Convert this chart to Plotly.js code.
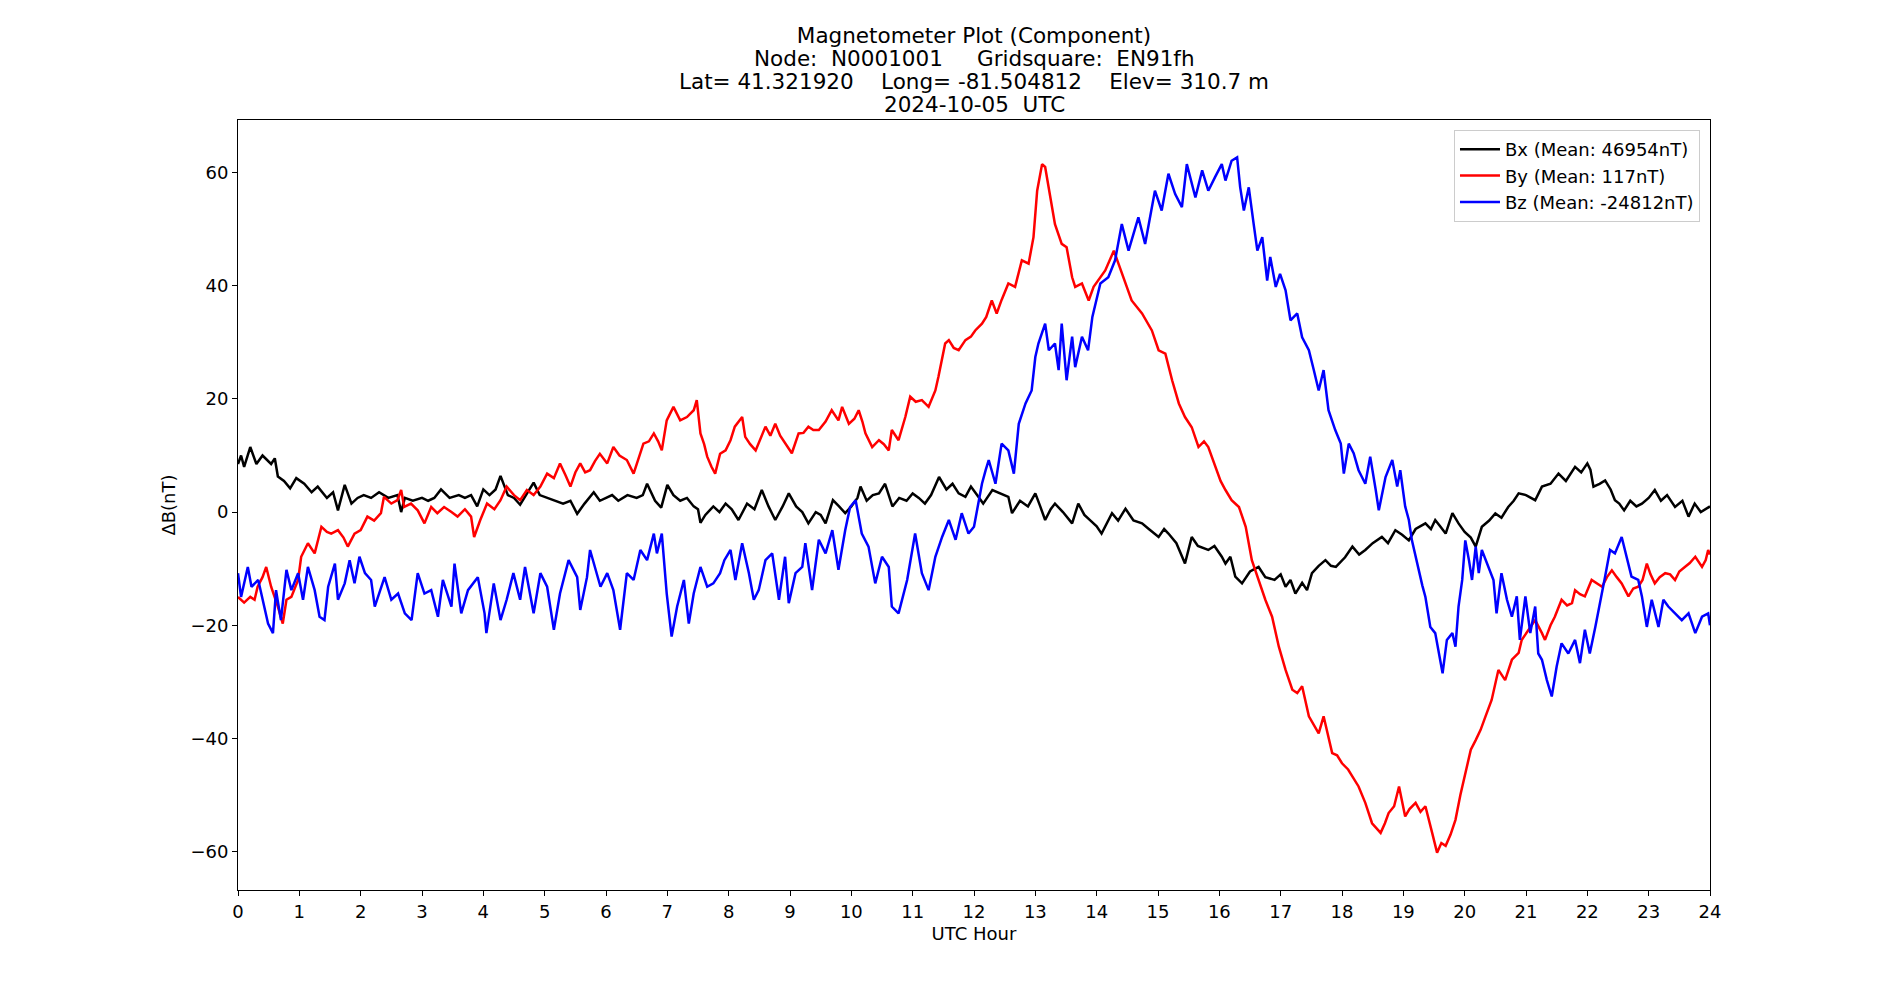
<!DOCTYPE html>
<html>
<head>
<meta charset="utf-8">
<script src="https://cdn.plot.ly/plotly-3.0.1.min.js"></script>
<style>
html,body{margin:0;padding:0;background:#fff;}
#chart{width:1900px;height:1000px;}
</style>
</head>
<body>
<div id="chart"></div>
<script>
// ---- Data ----
const titleLines = [
  "Magnetometer Plot (Component)",
  "Node:  N0001001     Gridsquare:  EN91fh",
  "Lat= 41.321920    Long= -81.504812    Elev= 310.7 m",
  "2024-10-05  UTC"
];
const seriesNames = ["Bx (Mean: 46954nT)", "By (Mean: 117nT)", "Bz (Mean: -24812nT)"];
const xTickVals = [0,1,2,3,4,5,6,7,8,9,10,11,12,13,14,15,16,17,18,19,20,21,22,23,24];
const yTickVals = [-60,-40,-20,0,20,40,60];

const bxHours = [0,0.05,0.1,0.2,0.3,0.4,0.54,0.6,0.65,0.75,0.85,0.95,1.08,1.2,1.3,1.45,1.55,1.63,1.74,1.85,1.95,2.05,2.17,2.3,2.45,2.6,2.66,2.72,2.85,3.0,3.1,3.2,3.31,3.45,3.6,3.7,3.8,3.9,4.0,4.1,4.2,4.28,4.4,4.5,4.6,4.7,4.82,4.92,5.04,5.15,5.3,5.42,5.53,5.65,5.8,5.9,6.0,6.1,6.2,6.35,6.5,6.6,6.67,6.8,6.9,7.0,7.1,7.21,7.32,7.43,7.5,7.54,7.62,7.75,7.85,7.95,8.05,8.16,8.3,8.42,8.54,8.65,8.76,8.88,8.98,9.1,9.2,9.3,9.42,9.5,9.58,9.7,9.8,9.9,10.0,10.1,10.15,10.25,10.35,10.45,10.55,10.67,10.78,10.9,11.0,11.1,11.2,11.3,11.43,11.55,11.65,11.75,11.86,11.95,12.05,12.15,12.3,12.45,12.56,12.62,12.75,12.88,13.0,13.08,13.16,13.25,13.32,13.45,13.6,13.7,13.8,13.9,14.0,14.08,14.18,14.25,14.35,14.47,14.6,14.74,14.85,15.01,15.1,15.17,15.3,15.44,15.55,15.65,15.82,15.92,16.04,16.1,16.18,16.26,16.37,16.5,16.64,16.75,16.9,17.0,17.08,17.16,17.24,17.35,17.43,17.51,17.62,17.73,17.82,17.9,18.05,18.17,18.28,18.38,18.5,18.65,18.75,18.87,18.98,19.09,19.2,19.36,19.45,19.52,19.6,19.69,19.8,19.9,20.0,20.1,20.18,20.28,20.4,20.5,20.6,20.71,20.8,20.88,21.0,21.15,21.26,21.4,21.53,21.65,21.8,21.9,22.0,22.05,22.1,22.2,22.29,22.38,22.45,22.52,22.6,22.7,22.8,22.89,23.0,23.1,23.2,23.3,23.43,23.55,23.65,23.75,23.85,23.97,24.0];
const bxValues = [8.5,10,8,11.5,8.5,10,8.5,9.5,6.3,5.5,4.2,6,5,3.5,4.5,2.5,3.5,0.3,4.8,1.5,2.5,3,2.5,3.5,2.5,3,0,2.5,2,2.5,2,2.5,4,2.5,3,2.5,3,1,4,3,4,6.4,3,2.5,1.3,3,5.2,3,2.5,2,1.5,2,-0.3,1.5,3.5,2,2.5,3,2,3,2.5,3,5,2,0.8,4.8,3,2,2.5,1,0.5,-1.9,-0.5,1,0,1.5,0.5,-1.4,1.5,0.5,3.9,1,-1.4,1,3.3,1,0,-2,0,-0.5,-2,2.1,1,-0.2,1,2.5,4.5,2,3,3.3,5,1,2.5,2,3.3,2.5,1.5,3,6.2,4,5,3.3,2.7,4.5,3,1.5,3.9,3.2,2.7,-0.2,2,1,3.3,1,-1.4,0.5,1.5,0,-2,1.5,-0.5,-1.5,-2.5,-3.8,-1.5,-0.2,-1.5,0.6,-1.5,-2,-3,-4.4,-3,-3.8,-5.5,-9.1,-4.4,-6,-6.7,-6,-7.9,-9.1,-7.9,-11.4,-12.6,-10.5,-9.7,-11.5,-12,-11,-13.2,-12,-14.4,-12.5,-13.8,-10.8,-9.5,-8.5,-9.5,-9.7,-8,-6.1,-7.5,-6.7,-5.5,-4.4,-5.5,-3.2,-4,-5,-3,-2,-3,-1.4,-2.5,-3.8,-0.2,-2,-3.5,-4.5,-6.1,-2.6,-1.5,-0.25,-1,0.9,2,3.3,3,2.1,4.5,5,6.8,5.5,8,7,8.6,7.5,4.5,5,5.6,4,2.1,1.5,0.3,2,1,1.5,2.5,3.9,2,3,0.9,2,-0.8,1.5,0,0.9,1];

const byHours = [0,0.1,0.2,0.27,0.32,0.4,0.46,0.54,0.65,0.73,0.79,0.87,0.98,1.03,1.14,1.25,1.36,1.45,1.52,1.63,1.72,1.79,1.9,2.0,2.11,2.22,2.33,2.38,2.5,2.6,2.66,2.71,2.82,2.93,3.04,3.15,3.25,3.36,3.48,3.58,3.7,3.8,3.85,3.95,4.06,4.18,4.28,4.38,4.5,4.6,4.71,4.82,4.93,5.04,5.15,5.25,5.34,5.42,5.5,5.58,5.66,5.74,5.82,5.9,6.02,6.12,6.22,6.34,6.45,6.53,6.61,6.7,6.78,6.85,6.91,6.99,7.1,7.21,7.32,7.43,7.48,7.54,7.6,7.65,7.72,7.78,7.86,7.95,8.03,8.1,8.22,8.27,8.35,8.44,8.52,8.6,8.68,8.76,8.84,8.92,9.03,9.14,9.22,9.3,9.38,9.47,9.58,9.68,9.79,9.85,9.96,10.05,10.12,10.18,10.23,10.34,10.45,10.53,10.61,10.66,10.77,10.88,10.96,11.05,11.15,11.26,11.37,11.42,11.48,11.53,11.59,11.67,11.75,11.86,11.95,12.02,12.13,12.2,12.29,12.37,12.45,12.56,12.67,12.78,12.89,12.97,13.03,13.11,13.16,13.24,13.32,13.43,13.51,13.6,13.65,13.76,13.87,13.95,14.06,14.14,14.28,14.41,14.57,14.74,14.9,15.01,15.12,15.23,15.34,15.44,15.55,15.66,15.75,15.82,15.93,16.02,16.1,16.2,16.32,16.43,16.53,16.64,16.75,16.86,16.97,17.08,17.19,17.27,17.35,17.46,17.54,17.62,17.7,17.84,17.92,18.0,18.1,18.17,18.27,18.38,18.49,18.63,18.7,18.76,18.85,18.93,19.03,19.1,19.2,19.28,19.36,19.47,19.55,19.62,19.69,19.77,19.85,19.93,20.01,20.1,20.18,20.26,20.34,20.44,20.55,20.66,20.77,20.88,20.93,21.04,21.15,21.26,21.31,21.4,21.47,21.58,21.67,21.75,21.8,21.88,21.96,22.07,22.15,22.24,22.32,22.4,22.48,22.56,22.67,22.75,22.83,22.9,22.97,23.03,23.1,23.18,23.27,23.35,23.43,23.5,23.59,23.67,23.76,23.87,23.93,23.97,24.0];
const byValues = [-15,-16,-15,-15.5,-13.2,-11.5,-9.7,-13.2,-16.7,-19.7,-15.5,-15,-12,-7.9,-5.5,-7.3,-2.6,-3.5,-3.8,-3.2,-4.5,-6.1,-3.8,-3.2,-0.8,-1.5,-0.2,2.7,1.5,2.1,3.9,0.9,1.5,0.3,-2,0.9,-0.2,0.9,0,-0.8,0.5,-0.8,-4.4,-1.4,1.5,0.5,2.1,4.5,3,2.1,3.9,3,4.5,6.8,6,8.6,6.5,4.5,7,8.6,7,7.4,9,10.3,8.6,11.5,10,9.2,6.8,9.5,12.1,12.5,13.9,12.5,10.9,16.2,18.6,16.2,16.8,18,19.8,13.9,12,9.8,8,6.8,10.3,10.9,12.7,15.1,16.8,13.3,12,10.9,13,15.1,13.5,15.6,13.5,12.1,10.4,13.9,14,15.1,14.5,14.5,16,18,16.2,18.6,15.6,16.5,18,16,13.9,11.5,12.7,12,10.9,14.5,12.7,16.8,20.4,19.5,19.8,18.6,21.5,23.9,27,29.8,30.4,29,28.6,30.4,31,32.1,33.3,34.5,37.4,35.1,37.5,40.4,39.8,44.5,43.9,48.6,56.8,61.5,61,55.6,50.9,47.4,46.8,41.5,39.8,40.4,37.4,39.8,41.5,42.7,46.2,42.1,37.4,35.1,32.1,28.6,28,23.3,19.2,16.8,15,11.5,12.5,11.5,8,5.5,3.9,2.1,0.9,-2.6,-8.5,-12,-15.5,-18.5,-23.8,-27.9,-31.4,-32,-30.8,-36.1,-37.5,-39.1,-36.1,-42.6,-43,-44.4,-45.5,-46.7,-48.5,-51.4,-55,-56.7,-55,-53.2,-52,-48.5,-53.8,-52.5,-51.4,-53,-52,-56.7,-60.2,-58.5,-59,-57,-54.4,-50,-46.1,-42,-40.3,-38.5,-36.1,-33.2,-27.9,-29.7,-26.1,-24.9,-22.6,-20.8,-19.1,-21.4,-22.6,-20,-18.5,-15.5,-16.5,-16.1,-13.8,-14.5,-14.9,-12,-12.5,-13.2,-11.5,-10.3,-11.5,-12.6,-14.9,-13.5,-13.2,-12,-9.1,-11,-12.6,-11.5,-10.8,-11,-12,-10.5,-9.7,-9,-7.9,-9.7,-8.5,-6.7,-7.5];

const bzHours = [0,0.05,0.16,0.22,0.33,0.43,0.49,0.57,0.62,0.7,0.79,0.87,0.98,1.06,1.14,1.25,1.33,1.41,1.47,1.58,1.63,1.74,1.82,1.9,1.98,2.07,2.17,2.23,2.39,2.5,2.61,2.72,2.83,2.93,3.04,3.15,3.26,3.34,3.48,3.53,3.64,3.75,3.91,4.02,4.05,4.17,4.28,4.38,4.49,4.6,4.68,4.82,4.93,5.04,5.15,5.25,5.39,5.53,5.58,5.69,5.74,5.91,6.02,6.12,6.23,6.34,6.45,6.56,6.67,6.78,6.83,6.91,6.99,7.07,7.16,7.27,7.35,7.43,7.54,7.65,7.75,7.86,7.93,8.03,8.11,8.22,8.33,8.41,8.49,8.6,8.71,8.82,8.92,8.98,9.09,9.2,9.25,9.36,9.47,9.58,9.69,9.79,9.9,9.98,10.07,10.17,10.28,10.39,10.5,10.61,10.66,10.77,10.91,11.04,11.15,11.26,11.37,11.48,11.59,11.7,11.8,11.91,12.0,12.08,12.13,12.19,12.24,12.35,12.45,12.56,12.65,12.73,12.84,12.94,13.0,13.05,13.16,13.22,13.32,13.38,13.43,13.51,13.6,13.65,13.76,13.86,13.93,14.06,14.19,14.3,14.41,14.52,14.68,14.79,14.95,15.06,15.17,15.28,15.39,15.47,15.61,15.72,15.82,15.93,16.04,16.1,16.2,16.29,16.34,16.4,16.48,16.56,16.62,16.7,16.78,16.83,16.92,16.99,17.08,17.16,17.27,17.35,17.46,17.54,17.62,17.7,17.78,17.89,17.98,18.03,18.11,18.19,18.27,18.38,18.46,18.55,18.6,18.71,18.82,18.9,18.95,19.03,19.09,19.14,19.23,19.31,19.36,19.44,19.52,19.6,19.64,19.71,19.8,19.85,19.9,19.96,20.01,20.07,20.12,20.18,20.23,20.28,20.39,20.47,20.52,20.6,20.69,20.77,20.85,20.9,20.99,21.07,21.15,21.2,21.26,21.34,21.42,21.5,21.58,21.69,21.8,21.88,21.96,22.04,22.13,22.21,22.29,22.37,22.45,22.56,22.64,22.72,22.83,22.89,22.97,23.05,23.16,23.24,23.32,23.43,23.54,23.65,23.76,23.87,23.97,24.0];
const bzValues = [-10.8,-15,-9.7,-13.2,-12,-16.7,-19.7,-21.4,-13.8,-19.1,-10.2,-13.8,-10.8,-15.5,-9.7,-13.8,-18.5,-19.1,-13.2,-9.1,-15.5,-12.6,-8.5,-12.6,-7.9,-10.8,-12,-16.7,-11.5,-15.5,-14.4,-17.9,-19.1,-10.8,-14.4,-13.8,-18.5,-12,-16.7,-9.1,-17.9,-13.8,-11.5,-17.9,-21.4,-12.6,-19.1,-15.5,-10.8,-15.5,-9.7,-17.9,-10.8,-13.2,-20.8,-14.4,-8.5,-11.5,-17.3,-11.5,-6.7,-13.2,-10.8,-13.8,-20.8,-10.8,-12,-6.7,-8.5,-3.8,-7.3,-3.8,-14.4,-22,-16.7,-12,-19.7,-14.4,-9.7,-13.2,-12.6,-10.8,-8.5,-6.7,-12,-5.5,-10.8,-15.5,-13.8,-8.5,-7.3,-15.5,-7.9,-16.1,-10.8,-9.7,-5.5,-13.8,-4.9,-7.3,-3.2,-10.2,-3.2,0.9,2.1,-3.8,-6.1,-12.6,-7.9,-9.7,-16.7,-17.9,-12,-3.8,-10.8,-13.8,-7.9,-4.4,-1.4,-4.9,-0.2,-3.8,-2.6,2.1,5,7.4,9.2,5,12.1,10.9,6.8,15.6,19.2,21.5,27.4,29.8,33.3,28.6,29.8,25.1,33.3,23.3,31,25.6,31,28.6,34.5,40.4,41.5,44.5,50.9,46.2,52.1,47.4,56.8,53.3,59.8,56.2,53.9,61.5,55.6,60.4,56.8,59.2,61.5,58.6,62.1,62.7,57.4,53.3,57.4,50.9,46.2,48.6,40.9,45.1,39.8,42.1,39.2,33.9,35.1,30.9,28.6,25.1,21.5,25.1,18,14.5,12.1,6.8,12.1,10.4,7.4,5,9.8,3.9,0.3,6.2,9.2,4.5,7.4,1,-1.4,-5,-9.5,-13,-15,-20.3,-21.4,-26.1,-28.5,-22.6,-21.4,-23.8,-16.7,-12,-5,-8.5,-12,-6.1,-10.8,-6.7,-9.7,-12,-17.9,-10.8,-15.5,-18.5,-14.9,-22.6,-14.9,-21.4,-16.7,-25,-26.1,-29.7,-32.6,-27.3,-23.2,-25,-22.6,-26.7,-20.8,-25,-20.3,-15.5,-11.4,-6.7,-7.3,-4.4,-7.9,-11.4,-12,-14.9,-20.3,-15.5,-20.3,-15.5,-16.7,-17.9,-19.1,-17.9,-21.4,-18.5,-17.9,-20];

const seriesColors = ["#000000", "#ff0000", "#0000ff"];

// ---- Chart ----
const font = "DejaVu Sans, sans-serif";
const baseSize = 18;
const titleSize = 21.5;
const traces = [
  {x: bxHours, y: bxValues, name: seriesNames[0], color: seriesColors[0]},
  {x: byHours, y: byValues, name: seriesNames[1], color: seriesColors[1]},
  {x: bzHours, y: bzValues, name: seriesNames[2], color: seriesColors[2]}
].map((s, i) => ({
  type: "scatter", mode: "lines", x: s.x, y: s.y, name: s.name,
  legendgroup: "g" + i,
  line: {color: s.color, width: 2.5}
}));

// title: first line as layout.title, following lines as annotations (matplotlib line spacing)
const titleLineY = [35, 58, 81, 104]; // pixel centres from top of the figure
const titleAnnotations = titleLines.slice(1).map((t, i) => ({
  text: t, showarrow: false,
  xref: "paper", x: 0.5, xanchor: "center",
  yref: "paper", y: 1 + (120 - titleLineY[i + 1]) / 770, yanchor: "middle",
  font: {family: font, size: titleSize, color: "#000000"}
}));

const layout = {
  width: 1900, height: 1000,
  paper_bgcolor: "#ffffff", plot_bgcolor: "#ffffff",
  font: {family: font, size: baseSize, color: "#000000"},
  margin: {l: 238, r: 190, t: 120, b: 110, pad: 0},
  title: {
    text: titleLines[0],
    font: {family: font, size: titleSize, color: "#000000"},
    x: 0.5, xref: "paper", xanchor: "center",
    y: 1 - titleLineY[0] / 1000, yref: "container", yanchor: "middle"
  },
  annotations: titleAnnotations,
  showlegend: true,
  legend: {
    x: 0.9932, xanchor: "right", y: 0.987, yanchor: "top",
    bgcolor: "rgba(255,255,255,0.8)", bordercolor: "#cccccc", borderwidth: 1,
    font: {family: font, size: baseSize, color: "#000000"},
    tracegroupgap: 3, itemwidth: 40, traceorder: "normal"
  },
  xaxis: {
    range: [0, 24], tickvals: xTickVals, ticktext: xTickVals.map(String),
    showgrid: false, zeroline: false,
    showline: true, linecolor: "#000000", linewidth: 1, mirror: true,
    ticks: "outside", ticklen: 5, tickwidth: 1, tickcolor: "#000000",
    tickfont: {family: font, size: baseSize, color: "#000000"},
    title: {text: "UTC Hour", font: {family: font, size: baseSize, color: "#000000"}, standoff: 6}
  },
  yaxis: {
    range: [-66.8, 69.3], tickvals: yTickVals,
    showgrid: false, zeroline: false,
    showline: true, linecolor: "#000000", linewidth: 1, mirror: true,
    ticks: "outside", ticklen: 5, tickwidth: 1, tickcolor: "#000000",
    tickfont: {family: font, size: baseSize, color: "#000000"},
    title: {text: "ΔB(nT)", font: {family: font, size: baseSize, color: "#000000"}, standoff: 10}
  }
};

Plotly.newPlot("chart", traces, layout, {displayModeBar: false, staticPlot: true});
</script>
</body>
</html>
